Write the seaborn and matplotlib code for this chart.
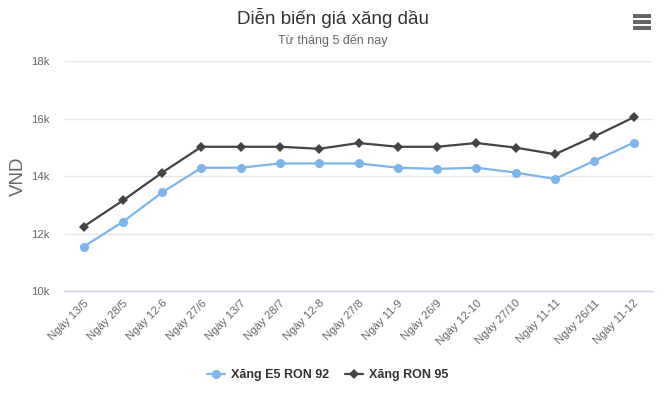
import matplotlib

matplotlib.use("Agg")
import matplotlib.pyplot as plt
import pandas as pd
import seaborn as sns
from matplotlib.lines import Line2D
from matplotlib.patches import Rectangle

dates = ["Ngày 13/5", "Ngày 28/5", "Ngày 12-6", "Ngày 27/6", "Ngày 13/7",
         "Ngày 28/7", "Ngày 12-8", "Ngày 27/8", "Ngày 11-9", "Ngày 26/9",
         "Ngày 12-10", "Ngày 27/10", "Ngày 11-11", "Ngày 26/11", "Ngày 11-12"]
ron92 = [11540, 12410, 13430, 14290, 14290, 14440, 14440, 14440, 14290, 14250,
         14290, 14120, 13900, 14530, 15160]
ron95 = [12240, 13150, 14120, 15020, 15020, 15020, 14950, 15150, 15020, 15020,
         15150, 14990, 14760, 15380, 16040]
series_names = ["Xăng E5 RON 92", "Xăng RON 95"]

BLUE = "#7cb5ec"
DARK = "#434348"

sns.set_theme(style="white")
plt.rcParams["font.family"] = ["Liberation Sans", "DejaVu Sans"]

df = pd.DataFrame({
    "pos": list(range(len(dates))) * 2,
    "price": ron92 + ron95,
    "series": [series_names[0]] * len(dates) + [series_names[1]] * len(dates),
})

fig = plt.figure(figsize=(6.65, 3.97), dpi=100)
ax = fig.add_axes([0.0962, 0.267, 0.886, 0.579])

sns.lineplot(data=df[df.series == series_names[0]], x="pos", y="price",
             color=BLUE, linewidth=1.6, marker="o", markersize=6.5,
             markeredgewidth=0, ax=ax)
sns.lineplot(data=df[df.series == series_names[1]], x="pos", y="price",
             color=DARK, linewidth=1.6, marker="D", markersize=5,
             markeredgewidth=0, ax=ax)

ax.set_xlim(-0.5, len(dates) - 0.5)
ax.set_ylim(10000, 18000)
ax.set_yticks([10000, 12000, 14000, 16000, 18000])
ax.set_yticklabels(["10k", "12k", "14k", "16k", "18k"], fontsize=8.2, color="#666666")
ax.set_xticks(range(len(dates)))
ax.set_xticklabels(dates, rotation=45, ha="right", rotation_mode="anchor",
                   fontsize=8.2, color="#666666")
ax.tick_params(axis="y", length=0, pad=10)
ax.tick_params(axis="x", length=0, pad=5)
ax.yaxis.grid(True, color="#e6e6e6", linewidth=1)
for side in ["top", "right", "left"]:
    ax.spines[side].set_visible(False)
ax.spines["bottom"].set_color("#ccd6eb")
ax.spines["bottom"].set_linewidth(1)
ax.set_xlabel("")
ax.set_ylabel("VND", fontsize=13.5, color="#666666", labelpad=3)

fig.text(0.5, 0.955, "Diễn biến giá xăng dầu", ha="center", va="center",
         fontsize=13.5, color="#333333")
fig.text(0.5, 0.899, "Từ tháng 5 đến nay", ha="center", va="center",
         fontsize=9, color="#666666")

# menu icon
for yy in [0.960, 0.945, 0.930]:
    fig.add_artist(Rectangle((0.952, yy - 0.0045), 0.027, 0.009,
                             transform=fig.transFigure, color="#666666", lw=0))

handles = [
    Line2D([], [], color=BLUE, lw=1.6, marker="o", markersize=6.5, markeredgewidth=0),
    Line2D([], [], color=DARK, lw=1.6, marker="D", markersize=5, markeredgewidth=0),
]
leg = fig.legend(handles, series_names, loc="center", bbox_to_anchor=(0.493, 0.055),
                 ncol=2, frameon=False, fontsize=9, handlelength=1.4,
                 columnspacing=1.3, handletextpad=0.5)
for t in leg.get_texts():
    t.set_color("#333333")
    t.set_fontweight("bold")

fig.savefig("out.png", dpi=100)
